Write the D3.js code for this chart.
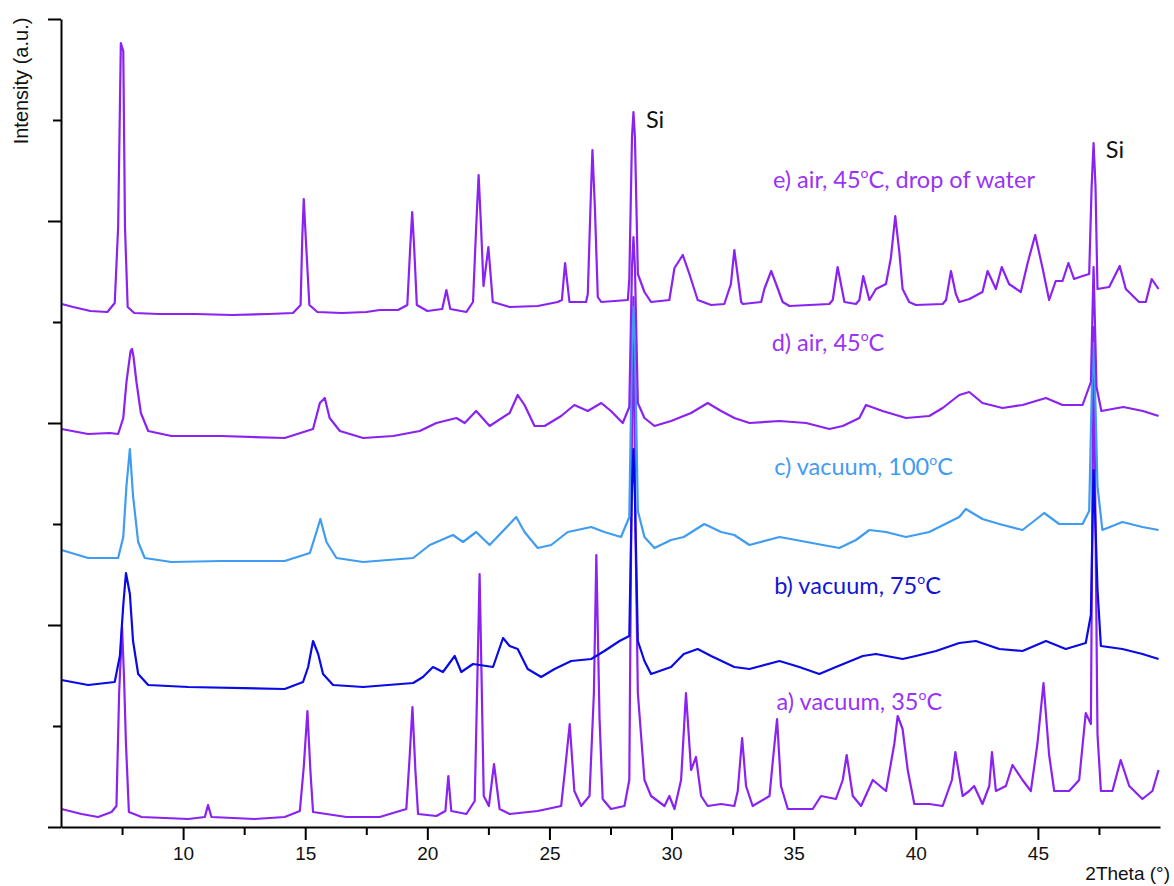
<!DOCTYPE html>
<html>
<head>
<meta charset="utf-8">
<script src="https://cdn.jsdelivr.net/npm/d3@7/dist/d3.min.js"></script>
<style>
  html, body { margin: 0; padding: 0; background: #ffffff; }
  svg { display: block; }
</style>
</head>
<body>
<div id="chart"></div>
<script>
// ---------------- DATA (2Theta in degrees, stacked intensity in a.u.) ----------------
const seriesNames = ["a", "b", "c", "d", "e"];

const patternE = [[5.03,523],[5.5,520],[6.2,516],[6.9,515],[7.2,524],[7.34,600],[7.45,784],[7.55,776],[7.62,600],[7.73,520],[8.0,514],[9.0,513],[10.5,513],[12,512],[13.5,513],[14.5,514],[14.81,522],[14.88,590],[14.94,628],[15.02,590],[15.17,522],[15.5,515],[16.5,514],[17.5,515],[18.05,517],[18.8,517],[19.18,522],[19.3,580],[19.38,615],[19.46,580],[19.57,522],[20.0,516],[20.61,518],[20.78,537],[20.94,518],[21.6,515],[21.87,525],[22.0,600],[22.1,652],[22.2,600],[22.3,541],[22.5,580],[22.68,525],[23.37,520],[24.52,521],[25.34,525],[25.51,527],[25.64,564],[25.82,525],[26.5,525],[26.57,533],[26.68,620],[26.76,677],[26.86,620],[26.98,530],[27.12,525],[28.21,527],[28.27,548],[28.38,690],[28.44,715],[28.5,690],[28.62,553],[28.89,535],[29.16,525],[29.91,527],[30.12,559],[30.46,572],[30.73,553],[31.07,527],[31.62,522],[32.16,523],[32.43,543],[32.57,577],[32.85,525],[32.92,523],[33.67,525],[33.8,538],[34.08,556],[34.28,543],[34.55,525],[34.83,521],[36.46,523],[36.6,527],[36.8,560],[37.08,525],[37.55,523],[37.69,527],[37.85,551],[38.1,527],[38.37,538],[38.78,543],[38.98,569],[39.16,611],[39.33,574],[39.46,538],[39.73,525],[40.0,522],[41.1,523],[41.24,527],[41.44,556],[41.64,533],[41.78,525],[42.2,528],[42.73,535],[42.94,556],[43.28,538],[43.52,560],[43.82,543],[44.3,535],[44.58,564],[44.89,592],[45.19,559],[45.46,527],[45.73,546],[46.01,546],[46.25,564],[46.48,548],[46.83,551],[47.1,553],[47.2,640],[47.28,684],[47.36,640],[47.44,538],[47.92,540],[48.35,561],[48.6,538],[49.14,525],[49.42,525],[49.66,548],[49.94,538]];

const patternD = [[5.02,398],[6.11,393],[7.0,394],[7.34,393],[7.55,409],[7.68,445],[7.85,476],[7.91,478],[7.97,470],[8.09,445],[8.27,414],[8.57,396],[9.52,391],[11.57,391],[14.16,389],[15.32,398],[15.6,424],[15.8,429],[16.0,409],[16.42,396],[17.37,389],[18.6,391],[19.69,396],[20.37,404],[21.19,409],[21.53,404],[22.0,416],[22.55,401],[23.37,414],[23.7,432],[23.98,422],[24.39,401],[24.8,401],[25.48,411],[26.02,422],[26.57,416],[27.12,424],[27.52,416],[28.0,404],[28.27,420],[28.38,560],[28.44,590],[28.5,560],[28.62,424],[28.89,409],[29.3,401],[29.98,406],[30.8,414],[31.48,424],[32.03,416],[32.57,409],[33.19,404],[34.42,406],[35.51,404],[36.46,398],[37.01,401],[37.69,409],[37.96,422],[38.64,416],[39.6,409],[40.55,411],[41.1,419],[41.78,432],[42.19,435],[42.73,424],[43.55,419],[44.37,422],[45.33,429],[46.01,422],[46.83,422],[47.17,445],[47.28,560],[47.4,440],[47.6,416],[48.5,420],[49.3,416],[49.94,411]];

const patternC = [[5.02,277],[6.11,269],[7.34,269],[7.55,290],[7.68,341],[7.82,378],[7.95,331],[8.16,285],[8.43,269],[9.52,265],[11.57,266],[14.16,266],[15.19,274],[15.46,295],[15.62,308],[15.87,285],[16.28,269],[17.37,265],[19.42,269],[20.1,282],[21.05,292],[21.46,285],[22.0,295],[22.55,282],[23.37,303],[23.64,310],[23.98,295],[24.52,279],[25.07,282],[25.75,295],[26.71,300],[27.25,295],[27.93,290],[28.27,310],[28.38,480],[28.44,520],[28.5,480],[28.62,316],[28.89,290],[29.3,279],[29.98,287],[30.5,290],[31.34,303],[32.03,295],[32.57,292],[33.19,282],[34.42,290],[35.1,287],[36.19,282],[36.87,279],[37.55,287],[38.1,297],[38.78,295],[39.6,290],[40.55,295],[41.37,305],[41.78,310],[42.05,318],[42.73,308],[43.42,303],[44.37,297],[45.26,314],[45.87,303],[46.83,303],[47.1,316],[47.22,450],[47.28,484],[47.36,420],[47.44,341],[47.64,297],[48.46,305],[49.28,300],[49.94,297]];

const patternB = [[5.02,147],[6.11,142],[7.2,145],[7.41,171],[7.55,222],[7.66,254],[7.82,233],[7.95,186],[8.16,153],[8.57,142],[10.21,140],[14.16,138],[14.91,145],[15.12,160],[15.32,186],[15.53,173],[15.73,153],[16.14,142],[17.37,140],[19.42,144],[19.82,150],[20.23,160],[20.64,155],[21.12,171],[21.39,155],[21.87,163],[22.69,160],[23.1,189],[23.37,181],[23.7,178],[24.11,158],[24.66,150],[25.21,158],[25.89,166],[26.71,168],[27.25,176],[27.87,186],[28.27,191],[28.38,340],[28.44,378],[28.5,330],[28.62,186],[28.89,166],[29.16,153],[29.98,160],[30.5,173],[31.07,178],[31.62,171],[32.57,160],[33.19,158],[34.42,166],[35.23,160],[36.05,153],[36.73,160],[37.83,171],[38.37,173],[39.46,168],[40.0,171],[40.83,176],[41.78,184],[42.46,186],[43.42,178],[44.37,176],[45.33,186],[46.14,178],[46.96,184],[47.17,212],[47.28,357],[47.36,300],[47.44,238],[47.58,181],[48.46,178],[49.28,173],[49.94,168]];

const patternA = [[5.02,18],[5.84,13],[6.52,10],[7.07,15],[7.27,21],[7.38,134],[7.5,200],[7.58,150],[7.66,83],[7.78,15],[8.3,10],[10.21,8],[10.89,10],[11.02,22],[11.16,10],[12.93,8],[14.16,10],[14.78,16],[14.94,60],[15.09,116],[15.21,57],[15.32,15],[16.69,10],[18.05,10],[19.14,18],[19.28,72],[19.39,120],[19.51,57],[19.62,13],[20.37,11],[20.74,16],[20.86,51],[20.98,16],[21.6,13],[21.94,26],[22.05,150],[22.14,253],[22.22,150],[22.31,31],[22.52,21],[22.73,63],[22.96,18],[23.37,13],[24.52,16],[25.48,21],[25.68,67],[25.83,103],[26.02,36],[26.3,21],[26.64,31],[26.82,134],[26.92,272],[27.05,109],[27.18,28],[27.52,18],[28.07,21],[28.27,47],[28.38,400],[28.44,530],[28.52,300],[28.62,134],[28.89,47],[29.16,31],[29.71,21],[29.91,31],[30.12,18],[30.39,47],[30.59,134],[30.8,57],[31.0,70],[31.21,31],[31.48,21],[32.03,23],[32.57,21],[32.71,36],[32.89,89],[33.05,41],[33.32,21],[34.01,31],[34.17,72],[34.32,108],[34.48,41],[34.76,18],[35.78,18],[36.12,31],[36.73,28],[37.01,47],[37.17,72],[37.42,31],[37.76,21],[38.24,47],[38.78,36],[39.12,83],[39.26,111],[39.46,98],[39.67,57],[39.94,23],[40.55,23],[41.1,21],[41.48,47],[41.62,75],[41.92,31],[42.19,36],[42.39,41],[42.73,23],[43.01,41],[43.12,75],[43.28,36],[43.69,41],[43.96,62],[44.37,47],[44.71,36],[44.98,83],[45.23,144],[45.46,72],[45.67,36],[46.28,36],[46.69,47],[46.96,114],[47.17,103],[47.28,500],[47.36,300],[47.44,93],[47.58,36],[48.05,36],[48.39,67],[48.74,41],[49.28,28],[49.69,36],[49.94,57]];

const patterns = [patternA, patternB, patternC, patternD, patternE];
const seriesLabels = [
  ["a) vacuum, 35", "C"],
  ["b) vacuum, 75", "C"],
  ["c) vacuum, 100", "C"],
  ["d) air, 45", "C"],
  ["e) air, 45", "C, drop of water"]
];
// label anchor: [2Theta, intensity] of the label baseline start
const labelAnchors = [[34.3, 117], [34.2, 233], [34.2, 352], [34.1, 476], [34.15, 639]];
const siLabels = [[28.95, 699], [47.78, 669]];
const xTicksMajor = [10, 15, 20, 25, 30, 35, 40, 45];
const xTicksMinor = [7.5, 12.5, 17.5, 22.5, 27.5, 32.5, 37.5, 42.5, 47.5];
const yTicksMajor = [0, 202, 404, 606, 808];
const yTicksMinor = [101, 303, 505, 707];
const xDomain = [5, 50];
const yDomain = [0, 808];

// ---------------- STYLE ----------------
const W = 1174, H = 886;
const plot = { left: 61, right: 1160, top: 19, bottom: 827 };
const colors = ["#8a22f2", "#0a0ae6", "#3f9cf0", "#8a22f2", "#8a22f2"];
const labelColors = ["#9933f5", "#1414d8", "#3f9cf0", "#9933f5", "#9933f5"];

const svg = d3.select("#chart").append("svg")
  .attr("width", W).attr("height", H);

const x = d3.scaleLinear().domain(xDomain).range([plot.left, plot.right]);
const y = d3.scaleLinear().domain(yDomain).range([plot.bottom, plot.top]);

const line = d3.line().x(d => x(d[0])).y(d => y(d[1]));

// traces
const traces = svg.append("g");
patterns.forEach((p, i) => {
  traces.append("path")
    .attr("d", line(p))
    .attr("fill", "none")
    .attr("stroke", colors[i])
    .attr("stroke-width", 2.2)
    .attr("stroke-linejoin", "round");
});

// axes
const axisG = svg.append("g");
const xAxisMajor = d3.axisBottom(x).tickValues(xTicksMajor).tickSize(13).tickSizeOuter(0).tickFormat(d3.format("d"));
const gx = axisG.append("g").attr("transform", `translate(0,${plot.bottom})`).call(xAxisMajor);
gx.select(".domain").attr("stroke", "#000").attr("stroke-width", 2);
gx.selectAll(".tick line").attr("stroke", "#000").attr("stroke-width", 2);
gx.selectAll(".tick text")
  .attr("font-family", "'Liberation Sans', Arial, sans-serif")
  .attr("font-size", 19).attr("fill", "#111").attr("y", 20).attr("dy", "0.71em");
const gxm = axisG.append("g").attr("transform", `translate(0,${plot.bottom})`)
  .call(d3.axisBottom(x).tickValues(xTicksMinor).tickSize(8).tickFormat(""));
gxm.select(".domain").remove();
gxm.selectAll(".tick line").attr("stroke", "#000").attr("stroke-width", 2);

const gy = axisG.append("g").attr("transform", `translate(${plot.left},0)`)
  .call(d3.axisLeft(y).tickValues(yTicksMajor).tickSize(13).tickSizeOuter(0).tickFormat(""));
gy.select(".domain").attr("stroke", "#000").attr("stroke-width", 2);
gy.selectAll(".tick line").attr("stroke", "#000").attr("stroke-width", 2);
const gym = axisG.append("g").attr("transform", `translate(${plot.left},0)`)
  .call(d3.axisLeft(y).tickValues(yTicksMinor).tickSize(8).tickFormat(""));
gym.select(".domain").remove();
gym.selectAll(".tick line").attr("stroke", "#000").attr("stroke-width", 2);

// axis titles
svg.append("text")
  .attr("transform", "translate(28,81) rotate(-90)")
  .attr("text-anchor", "middle")
  .attr("font-family", "'Liberation Sans', Arial, sans-serif")
  .attr("font-size", 20).attr("fill", "#111")
  .text("Intensity (a.u.)");
svg.append("text")
  .attr("x", 1170).attr("y", 880)
  .attr("text-anchor", "end")
  .attr("font-family", "'Liberation Sans', Arial, sans-serif")
  .attr("font-size", 19).attr("fill", "#111")
  .text("2Theta (°)");

// series labels
const labelFont = "Lato, 'Open Sans', sans-serif";
seriesLabels.forEach((lab, i) => {
  const t = svg.append("text")
    .attr("x", x(labelAnchors[i][0])).attr("y", y(labelAnchors[i][1]))
    .attr("font-family", labelFont).attr("font-size", 23.5)
    .attr("fill", labelColors[i]);
  t.append("tspan").text(lab[0]);
  t.append("tspan").attr("font-size", 14).attr("dy", -10).text("o");
  t.append("tspan").attr("dy", 10).text(lab[1]);
});

// Si labels
siLabels.forEach(s => {
  svg.append("text")
    .attr("x", x(s[0])).attr("y", y(s[1]))
    .attr("font-family", labelFont).attr("font-size", 23.5)
    .attr("fill", "#111").text("Si");
});
</script>
</body>
</html>
